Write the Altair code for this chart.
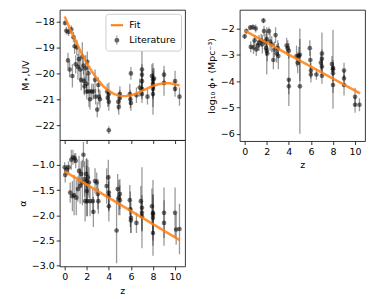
import altair as alt
import pandas as pd

# ---------------- data ----------------
# Top-left panel: M_UV vs z
muv_z = [0.03, 0.15, 0.3, 0.35, 0.45, 0.6, 0.7, 0.8, 0.9, 1.0, 1.1, 1.2, 1.3, 1.4, 1.5, 1.6,
         1.7, 1.75, 1.8, 1.9, 2.0, 2.0, 2.05, 2.15, 2.2, 2.3, 2.45, 2.6, 2.75, 2.8, 2.95, 3.05,
         3.1, 3.2, 3.85, 3.9, 4.0, 4.0, 4.0, 4.85, 4.9, 5.0, 5.0, 5.9, 5.95, 6.0, 6.0, 6.5, 6.8,
         7.0, 7.0, 7.0, 7.0, 7.0, 7.5, 7.9, 8.0, 8.0, 8.0, 8.0, 8.0, 8.1, 9.0, 9.0, 10.0, 10.0, 10.4]
muv_v = [-18.05, -18.35, -19.5, -18.4, -19.85, -18.3, -20.1, -18.6, -18.95, -19.65, -19.0, -19.75,
         -19.45, -19.85, -20.25, -19.35, -19.7, -20.3, -20.5, -19.8, -20.4, -20.7, -19.55, -20.0,
         -20.7, -21.0, -20.7, -20.7, -20.25, -20.9, -21.4, -20.45, -20.9, -21.0, -20.7, -20.95,
         -20.8, -21.1, -22.2, -21.1, -21.3, -20.8, -20.95, -20.8, -21.0, -21.15, -20.0, -20.85,
         -20.55, -19.85, -20.05, -20.3, -20.6, -20.8, -20.9, -20.1, -20.25, -20.4, -20.5, -20.6,
         -20.8, -20.2, -20.05, -20.37, -20.3, -20.6, -20.9]
muv_e = [0.1, 0.15, 0.3, 0.15, 0.3, 0.15, 0.45, 0.2, 0.3, 0.35, 0.3, 0.5, 0.35, 0.5, 0.4, 0.55,
         0.35, 0.5, 0.35, 0.5, 0.4, 0.3, 0.4, 0.3, 0.6, 0.4, 0.3, 0.3, 0.4, 0.3, 0.3, 0.3, 0.3,
         0.35, 0.3, 0.35, 0.45, 0.35, 0.15, 0.35, 0.3, 0.3, 0.3, 0.4, 0.35, 0.3, 0.25, 0.3, 0.35,
         1.0, 0.4, 0.4, 0.4, 0.35, 0.3, 0.45, 0.45, 0.5, 0.5, 1.0, 0.5, 0.4, 0.35, 0.5, 0.4, 0.3, 0.35]
muv_fit_z = [0, 0.5, 1, 1.5, 2, 2.5, 3, 3.5, 4, 4.5, 5, 5.5, 6, 6.5, 7, 7.5, 8, 8.5, 9, 9.5, 10, 10.4]
muv_fit_v = [-17.8, -18.3, -18.75, -19.2, -19.6, -19.95, -20.25, -20.5, -20.68, -20.8, -20.87,
             -20.88, -20.85, -20.78, -20.68, -20.58, -20.48, -20.42, -20.38, -20.38, -20.42, -20.47]

# Bottom-left panel: alpha vs z
alp_z = [0.0, 0.05, 0.2, 0.35, 0.5, 0.6, 0.7, 0.75, 0.85, 0.9, 1.0, 1.05, 1.2, 1.3, 1.4, 1.5,
         1.6, 1.7, 1.8, 1.85, 1.95, 2.0, 2.0, 2.05, 2.1, 2.2, 2.3, 2.55, 2.6, 2.75, 2.9, 3.0,
         3.05, 3.8, 3.95, 4.0, 4.0, 4.0, 4.7, 4.8, 4.9, 5.0, 5.0, 5.9, 5.95, 6.0, 6.0, 6.5, 6.9,
         7.0, 7.0, 7.0, 7.9, 8.0, 8.0, 8.0, 8.0, 9.0, 9.0, 10.0, 10.1, 10.4]
alp_v = [-1.05, -1.2, -1.1, -1.05, -1.55, -0.9, -1.62, -0.85, -1.6, -0.87, -0.92, -1.65, -1.48,
         -1.12, -1.42, -1.18, -1.35, -0.8, -1.28, -1.72, -1.18, -1.32, -1.52, -1.72, -1.25, -1.35,
         -1.72, -1.72, -1.93, -1.32, -1.35, -1.58, -1.72, -1.42, -1.25, -1.55, -1.62, -1.82, -2.3,
         -1.48, -1.65, -1.58, -1.7, -1.7, -1.88, -2.05, -2.1, -2.15, -1.72, -1.85, -1.95, -2.02,
         -1.82, -1.95, -1.98, -2.05, -2.35, -1.95, -2.15, -1.95, -2.28, -2.27]
alp_e = [0.1, 0.15, 0.1, 0.12, 0.2, 0.2, 0.3, 0.15, 0.4, 0.1, 0.15, 0.35, 0.25, 0.3, 0.35, 0.25,
         0.45, 0.25, 0.35, 0.4, 0.3, 0.45, 0.5, 0.3, 0.35, 0.3, 0.3, 0.25, 0.3, 0.25, 0.2, 0.3,
         0.25, 0.35, 0.35, 0.35, 0.3, 0.3, 0.65, 0.3, 0.35, 0.3, 0.3, 0.3, 0.35, 0.3, 0.25, 0.2,
         0.3, 0.8, 0.35, 0.3, 0.35, 0.65, 0.4, 0.45, 0.45, 0.5, 0.45, 0.5, 0.3, 0.5]
alp_fit_z = [0.0, 10.42]
alp_fit_v = [-1.13, -2.49]

# Right panel: log10 phi* vs z
phi_z = [0.0, 0.15, 0.5, 0.55, 0.75, 0.8, 0.9, 1.0, 1.05, 1.2, 1.3, 1.5, 1.6, 1.7, 1.75, 1.85,
         1.95, 2.0, 2.0, 2.05, 2.2, 2.3, 2.45, 2.6, 2.7, 2.8, 2.9, 3.0, 3.05, 3.8, 3.9, 4.0, 4.0,
         4.0, 4.7, 4.8, 4.9, 5.0, 5.0, 5.9, 5.95, 6.0, 6.0, 6.5, 6.9, 7.0, 7.0, 7.0, 7.0, 7.9,
         8.0, 8.0, 8.0, 8.0, 9.0, 9.0, 9.0, 10.0, 10.0, 10.4]
phi_v = [-2.3, -2.1, -1.97, -2.7, -1.95, -2.72, -2.45, -2.0, -2.8, -2.65, -2.55, -2.45, -2.6,
         -1.7, -2.1, -2.5, -2.75, -2.4, -2.85, -2.95, -2.1, -2.5, -2.6, -3.2, -2.8, -2.25, -2.95,
         -2.75, -3.05, -2.65, -2.75, -2.85, -3.95, -4.2, -3.05, -3.3, -3.05, -3.0, -4.2, -2.75,
         -3.2, -3.6, -3.75, -3.75, -3.3, -2.95, -3.15, -3.45, -3.8, -3.35, -3.5, -3.55, -3.7,
         -4.15, -3.6, -3.9, -4.15, -4.6, -4.9, -4.9]
phi_e = [0.1, 0.1, 0.1, 0.2, 0.1, 0.25, 0.2, 0.15, 0.25, 0.2, 0.3, 0.25, 0.35, 0.1, 0.2, 0.3,
         0.3, 0.3, 0.9, 0.3, 0.15, 0.35, 0.3, 0.35, 0.3, 0.3, 0.35, 0.3, 0.5, 0.3, 0.3, 0.3, 1.0,
         0.3, 0.4, 0.4, 0.35, 1.0, 1.8, 0.3, 0.35, 0.3, 0.3, 0.2, 0.3, 0.8, 0.35, 0.3, 0.3, 0.3,
         0.3, 1.5, 0.3, 0.3, 0.3, 0.3, 0.4, 0.35, 0.3, 0.25]
phi_fit_z = [0.0, 10.45]
phi_fit_v = [-2.08, -4.47]

x_ticks = [0, 2, 4, 6, 8, 10]
muv_ticks = [-22, -21, -20, -19, -18]
alp_ticks = [-3.0, -2.5, -2.0, -1.5, -1.0]
phi_ticks = [-6, -5, -4, -3, -2]

legend_names = ["Fit", "Literature"]
ORANGE = "#ff7f0e"
X_DOMAIN = [-0.45, 10.9]

FIT_SYMBOL = "M-1,-0.17L1,-0.17L1,0.17L-1,0.17Z"
LIT_SYMBOL = ("M-0.4,0A0.4,0.4,0,1,1,0.4,0A0.4,0.4,0,1,1,-0.4,0Z"
              "M-0.06,-0.75L0.06,-0.75L0.06,0.75L-0.06,0.75Z")


def panel(zs, vs, es, fz, fv, ydomain, yticks, ytitle, height, show_xlabels,
          yfmt="d", legend=False):
    df = pd.DataFrame({"z": zs, "v": vs, "e": es, "series": "Literature"})
    fit = pd.DataFrame({"z": fz, "v": fv, "series": "Fit"})
    xaxis = alt.Axis(values=x_ticks, title="z" if show_xlabels else None,
                     labels=show_xlabels, format="d")
    xs = alt.Scale(domain=X_DOMAIN, nice=False, zero=False)
    ys = alt.Scale(domain=ydomain, nice=False, zero=False)
    yaxis = alt.Axis(values=yticks, title=ytitle, format=yfmt)
    base = alt.Chart(df)
    bars = base.transform_calculate(lo="datum.v - datum.e", hi="datum.v + datum.e").mark_rule(
        color="black", opacity=0.4, strokeWidth=1.3, clip=True
    ).encode(
        x=alt.X("z:Q", scale=xs, axis=xaxis),
        y=alt.Y("lo:Q", scale=ys, axis=yaxis),
        y2="hi:Q",
    )
    pts = base.mark_circle(size=22, color="black", opacity=0.55, clip=True).encode(
        x=alt.X("z:Q", scale=xs, axis=xaxis),
        y=alt.Y("v:Q", scale=ys, axis=yaxis),
    )
    line = alt.Chart(fit).mark_line(strokeWidth=2.5, opacity=0.85, clip=True,
                                    color=ORANGE).encode(
        x=alt.X("z:Q", scale=xs, axis=xaxis),
        y=alt.Y("v:Q", scale=ys, axis=yaxis),
    )
    layers = [bars, pts, line]
    if legend:
        leg = alt.Legend(
            title=None, orient="none", legendX=46, legendY=4,
            fillColor="white", strokeColor="#cccccc", cornerRadius=3, padding=5,
            labelFontSize=9.5, labelFont="DejaVu Sans", labelColor="black",
            symbolSize=150, rowPadding=4, labelOffset=6, symbolStrokeWidth=0,
            symbolOpacity=1,
        )
        leg_layer = alt.Chart(fit).transform_filter("false").mark_point(
            filled=True, opacity=1, strokeWidth=0
        ).encode(
            x=alt.X("z:Q", scale=xs, axis=xaxis),
            y=alt.Y("v:Q", scale=ys, axis=yaxis),
            fill=alt.Fill("series:N", scale=alt.Scale(domain=legend_names,
                                                      range=[ORANGE, "rgba(0,0,0,0.6)"]),
                          legend=leg),
            shape=alt.Shape("series:N", scale=alt.Scale(domain=legend_names,
                                                        range=[FIT_SYMBOL, LIT_SYMBOL]),
                            legend=leg),
        )
        layers.append(leg_layer)
    return alt.layer(*layers).properties(width=126, height=height)


top = panel(muv_z, muv_v, muv_e, muv_fit_z, muv_fit_v, [-22.58, -17.54], muv_ticks,
            "M⋆,UV", 131, False, legend=True)
bottom = panel(alp_z, alp_v, alp_e, alp_fit_z, alp_fit_v, [-3.01, -0.51], alp_ticks,
               "α", 127, True, yfmt=".1f")
right = panel(phi_z, phi_v, phi_e, phi_fit_z, phi_fit_v, [-6.28, -1.29], phi_ticks,
              "log₁₀ ϕ⋆ (Mpc⁻³)", 132, True)

left = alt.vconcat(top, bottom, spacing=0, bounds="flush")
chart = alt.hconcat(left, right, spacing=20).properties(
    padding={"left": 8, "top": 0, "right": 0, "bottom": 0}
).configure_view(stroke="#222222", strokeWidth=0.9).configure_axis(
    domain=False, grid=False, tickColor="black", tickSize=3.5, tickWidth=0.8,
    labelFontSize=9.5, labelFont="DejaVu Sans", labelColor="black", labelPadding=2,
    titleFontSize=9.5, titleFont="DejaVu Sans", titleColor="black", titleFontWeight="normal",
    titlePadding=4,
)

chart.save("out.html", embed_options={"renderer": "svg", "actions": False})
